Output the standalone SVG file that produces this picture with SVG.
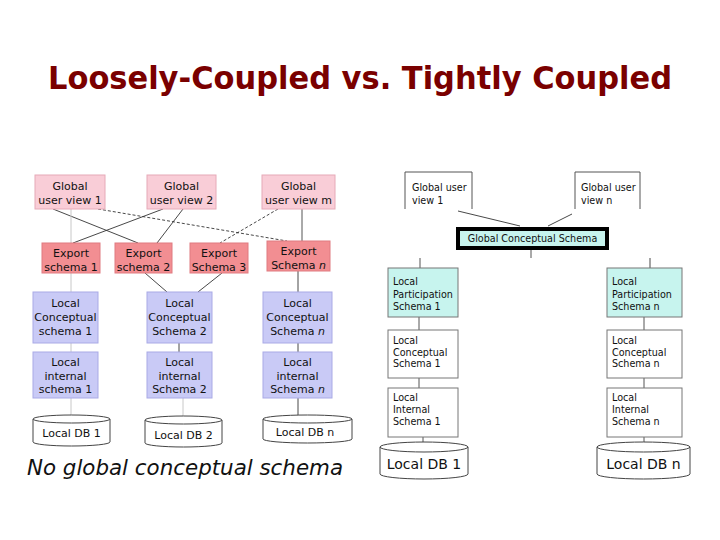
<svg xmlns="http://www.w3.org/2000/svg" width="720" height="540" viewBox="0 0 720 540">
<style>
text{font-family:"DejaVu Sans","Liberation Sans",sans-serif;fill:#111}
.l{font-size:11px;text-anchor:middle}
.r{font-size:9.6px}
.guv{fill:#f9cdd7;stroke:#e6aab8;stroke-width:1}
.exp{fill:#f28e92;stroke:#e07a80;stroke-width:1}
.loc{fill:#c9caf6;stroke:#a9aae6;stroke-width:1}
.cy{fill:#c7f4ee;stroke:#777;stroke-width:1}
.wb{fill:#fff;stroke:#777;stroke-width:1}
.db{fill:#fff;stroke:#444;stroke-width:1}
.c{stroke:#333;stroke-width:0.9;fill:none}
.d{stroke:#333;stroke-width:0.9;fill:none;stroke-dasharray:3 2}
.f{stroke:#c8c8c8;stroke-width:1;fill:none}
.g{stroke:#555;stroke-width:1;fill:none}
</style>
<rect width="720" height="540" fill="#fff"/>
<text x="48" y="89" font-size="32" font-weight="bold" textLength="624" lengthAdjust="spacingAndGlyphs" style="fill:#7a0000;font-family:'DejaVu Sans',sans-serif">Loosely-Coupled vs. Tightly Coupled</text>

<g id="connectors">
<line class="c" x1="53" y1="209" x2="138" y2="243"/>
<line class="d" x1="98" y1="209" x2="287" y2="241"/>
<line class="c" x1="163" y1="209" x2="73" y2="243"/>
<line class="c" x1="183" y1="209" x2="157" y2="243"/>
<line class="d" x1="278" y1="209" x2="220" y2="243"/>
<line class="g" x1="302" y1="209" x2="302" y2="241"/>
<line class="f" x1="71" y1="209" x2="71" y2="243"/>
<line class="f" x1="71" y1="273" x2="71" y2="292"/>
<line class="f" x1="71" y1="343" x2="71" y2="352"/>
<line class="f" x1="71" y1="398" x2="71" y2="415"/>
<line class="c" x1="145" y1="273" x2="167" y2="292"/>
<line class="c" x1="222" y1="273" x2="198" y2="292"/>
<line class="c" x1="298" y1="271" x2="298" y2="292"/>
<line class="c" x1="179" y1="343" x2="179" y2="352"/>
<line class="f" x1="183" y1="398" x2="183" y2="416"/>
<line class="c" x1="298" y1="343" x2="298" y2="352"/>
<line class="c" x1="298" y1="398" x2="298" y2="416"/>
<line class="c" x1="458" y1="211" x2="520" y2="226"/>
<line class="c" x1="572" y1="214" x2="548" y2="226"/>
<line class="g" x1="531" y1="249" x2="531" y2="258"/>
<line class="g" x1="420" y1="258" x2="420" y2="268"/>
<line class="c" x1="650" y1="258" x2="650" y2="268"/>
<line class="g" x1="419" y1="317" x2="419" y2="330"/>
<line class="g" x1="419" y1="378" x2="419" y2="388"/>
<line class="g" x1="423" y1="437" x2="423" y2="446"/>
<line class="g" x1="644" y1="317" x2="644" y2="330"/>
<line class="g" x1="644" y1="378" x2="644" y2="388"/>
<line class="g" x1="644" y1="437" x2="644" y2="446"/>
</g>

<g id="guv1"><rect class="guv" x="35" y="175" width="70" height="34"/><text class="l" x="70" y="190">Global</text><text class="l" x="70" y="204">user view 1</text></g>
<g id="guv2"><rect class="guv" x="147" y="175" width="69" height="34"/><text class="l" x="181.5" y="190">Global</text><text class="l" x="181.5" y="204">user view 2</text></g>
<g id="guvm"><rect class="guv" x="262" y="175" width="73" height="34"/><text class="l" x="298.5" y="190">Global</text><text class="l" x="298.5" y="204">user view m</text></g>

<g id="exp1"><rect class="exp" x="42" y="243" width="58" height="30"/><text class="l" x="71" y="257">Export</text><text class="l" x="71" y="271">schema 1</text></g>
<g id="exp2"><rect class="exp" x="115" y="243" width="57" height="30"/><text class="l" x="143.5" y="257">Export</text><text class="l" x="143.5" y="271">schema 2</text></g>
<g id="exp3"><rect class="exp" x="190" y="243" width="58" height="30"/><text class="l" x="219" y="257">Export</text><text class="l" x="219" y="271">Schema 3</text></g>
<g id="expn"><rect class="exp" x="267" y="241" width="63" height="30"/><text class="l" x="298.5" y="255">Export</text><text class="l" x="298.5" y="269">Schema <tspan font-style="italic">n</tspan></text></g>

<g id="lcs1"><rect class="loc" x="33" y="292" width="65" height="51"/><text class="l" x="65.5" y="307">Local</text><text class="l" x="65.5" y="321">Conceptual</text><text class="l" x="65.5" y="335">schema 1</text></g>
<g id="lcs2"><rect class="loc" x="147" y="292" width="65" height="51"/><text class="l" x="179.5" y="307">Local</text><text class="l" x="179.5" y="321">Conceptual</text><text class="l" x="179.5" y="335">Schema 2</text></g>
<g id="lcsn"><rect class="loc" x="263" y="292" width="69" height="51"/><text class="l" x="297.5" y="307">Local</text><text class="l" x="297.5" y="321">Conceptual</text><text class="l" x="297.5" y="335">Schema <tspan font-style="italic">n</tspan></text></g>

<g id="lis1"><rect class="loc" x="33" y="352" width="65" height="46"/><text class="l" x="65.5" y="366">Local</text><text class="l" x="65.5" y="380">internal</text><text class="l" x="65.5" y="393">schema 1</text></g>
<g id="lis2"><rect class="loc" x="147" y="352" width="65" height="46"/><text class="l" x="179.5" y="366">Local</text><text class="l" x="179.5" y="380">internal</text><text class="l" x="179.5" y="393">Schema 2</text></g>
<g id="lisn"><rect class="loc" x="263" y="352" width="69" height="46"/><text class="l" x="297.5" y="366">Local</text><text class="l" x="297.5" y="380">internal</text><text class="l" x="297.5" y="393">Schema <tspan font-style="italic">n</tspan></text></g>

<g id="db1"><path class="db" d="M33 419 A38.5 4 0 0 1 110 419 L110 442 A38.5 4 0 0 1 33 442 Z M33 419 A38.5 4 0 0 0 110 419"/><text class="l" x="71.5" y="437">Local DB 1</text></g>
<g id="db2"><path class="db" d="M145 420 A38.5 4 0 0 1 222 420 L222 443 A38.5 4 0 0 1 145 443 Z M145 420 A38.5 4 0 0 0 222 420"/><text class="l" x="183.5" y="439">Local DB 2</text></g>
<g id="dbn"><path class="db" d="M263 419 A44.5 4 0 0 1 352 419 L352 439 A44.5 4 0 0 1 263 439 Z M263 419 A44.5 4 0 0 0 352 419"/><text class="l" x="305" y="436">Local DB n</text></g>

<text x="27" y="475" font-size="22" font-style="italic" textLength="316" lengthAdjust="spacingAndGlyphs">No global conceptual schema</text>

<g id="rguv1"><path class="g" d="M405 209 V172 H472 V209"/><text class="r" x="412" y="191">Global user</text><text class="r" x="412" y="204">view 1</text></g>
<g id="rguvn"><path class="g" d="M575 209 V172 H640 V209"/><text class="r" x="581" y="191">Global user</text><text class="r" x="581" y="204">view n</text></g>
<g id="gcs"><rect x="458" y="229" width="149" height="19" fill="#c7f4ee" stroke="#000" stroke-width="4"/><text class="r" x="532.5" y="242" text-anchor="middle">Global Conceptual Schema</text></g>

<g id="lps1"><rect class="cy" x="388" y="268" width="70" height="49"/><text class="r" x="393" y="285">Local</text><text class="r" x="393" y="297.5">Participation</text><text class="r" x="393" y="310">Schema 1</text></g>
<g id="lpsn"><rect class="cy" x="607" y="268" width="75" height="49"/><text class="r" x="612" y="285">Local</text><text class="r" x="612" y="297.5">Participation</text><text class="r" x="612" y="310">Schema n</text></g>
<g id="rlcs1"><rect class="wb" x="388" y="330" width="70" height="48"/><text class="r" x="393" y="343.5">Local</text><text class="r" x="393" y="355.5">Conceptual</text><text class="r" x="393" y="367">Schema 1</text></g>
<g id="rlcsn"><rect class="wb" x="607" y="330" width="75" height="48"/><text class="r" x="612" y="343.5">Local</text><text class="r" x="612" y="355.5">Conceptual</text><text class="r" x="612" y="367">Schema n</text></g>
<g id="rlis1"><rect class="wb" x="388" y="388" width="70" height="49"/><text class="r" x="393" y="400.5">Local</text><text class="r" x="393" y="412.5">Internal</text><text class="r" x="393" y="425">Schema 1</text></g>
<g id="rlisn"><rect class="wb" x="607" y="388" width="75" height="49"/><text class="r" x="612" y="400.5">Local</text><text class="r" x="612" y="412.5">Internal</text><text class="r" x="612" y="425">Schema n</text></g>
<g id="rdb1"><path class="db" d="M380 447 A44 5 0 0 1 468 447 L468 474 A44 5 0 0 1 380 474 Z M380 447 A44 5 0 0 0 468 447"/><text x="424" y="469" font-size="14" text-anchor="middle">Local DB 1</text></g>
<g id="rdbn"><path class="db" d="M597 447 A46.5 5 0 0 1 690 447 L690 474 A46.5 5 0 0 1 597 474 Z M597 447 A46.5 5 0 0 0 690 447"/><text x="643.5" y="469" font-size="14" text-anchor="middle">Local DB n</text></g>
</svg>
